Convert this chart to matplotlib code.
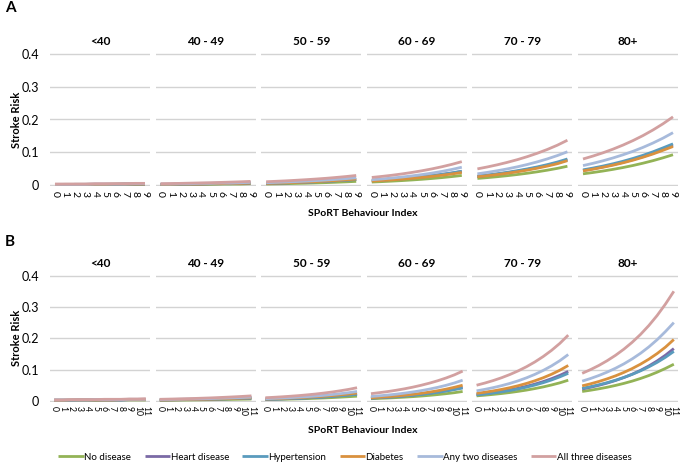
import matplotlib
matplotlib.use("Agg")
import matplotlib.pyplot as plt

plt.rcParams["font.family"] = ["Lato", "DejaVu Sans"]

ages = ["<40", "40 - 49", "50 - 59", "60 - 69", "70 - 79", "80+"]
diseases = ["No disease", "Heart disease", "Hypertension", "Diabetes",
            "Any two diseases", "All three diseases"]
colors = ["#93b356", "#7b6aa6", "#5a9bbd", "#d9913e", "#a7badb", "#d2a0a0"]
y_ticks = [0, 0.1, 0.2, 0.3, 0.4]
y_labels = ["0", "0.1", "0.2", "0.3", "0.4"]

## panel A, index 0..9 (rows follow `diseases`)
a_lt40 = [
    [.002, .002, .002, .002, .002, .003, .003, .003, .003, .003],
    [.002, .002, .003, .003, .003, .003, .003, .004, .004, .004],
    [.002, .002, .003, .003, .003, .003, .003, .004, .004, .004],
    [.002, .003, .003, .003, .003, .003, .004, .004, .004, .004],
    [.003, .003, .003, .003, .004, .004, .004, .004, .005, .005],
    [.004, .004, .004, .004, .005, .005, .005, .005, .006, .006],
]
a_40s = [
    [.002, .002, .003, .003, .003, .003, .004, .004, .004, .005],
    [.003, .003, .004, .004, .004, .005, .005, .006, .006, .007],
    [.003, .003, .003, .004, .004, .005, .005, .005, .006, .007],
    [.003, .003, .004, .004, .004, .005, .005, .006, .006, .007],
    [.004, .004, .005, .005, .006, .006, .007, .007, .008, .009],
    [.005, .0055, .006, .0067, .0074, .0081, .0089, .0098, .0108, .012],
]
a_50s = [
    [.004, .0045, .0051, .0058, .0065, .0074, .0083, .0094, .0106, .012],
    [.006, .0068, .0077, .0087, .0098, .011, .0125, .0141, .0159, .018],
    [.006, .0068, .0076, .0086, .0097, .011, .0124, .014, .0158, .0178],
    [.006, .0069, .0078, .0089, .010, .0114, .013, .0147, .0167, .019],
    [.008, .009, .0101, .0114, .0128, .0143, .0161, .0181, .0204, .023],
    [.011, .0123, .0137, .0154, .0172, .0192, .0214, .024, .0268, .030],
]
a_60s = [
    [.010, .0113, .0128, .0144, .0163, .0184, .0208, .0235, .0266, .030],
    [.014, .0158, .0179, .0202, .0228, .0258, .0291, .0329, .0372, .042],
    [.014, .0159, .018, .0203, .023, .026, .0294, .0333, .0377, .043],
    [.013, .0147, .0166, .0188, .0212, .024, .0271, .0306, .0346, .039],
    [.017, .0194, .0221, .0251, .0286, .0326, .0371, .0423, .0482, .055],
    [.024, .0271, .0306, .0346, .0391, .0442, .0499, .0564, .0637, .072],
]
a_70s = [
    [.021, .0235, .0263, .0294, .0329, .0368, .0412, .0461, .0516, .058],
    [.027, .0303, .034, .0382, .0429, .0482, .0541, .0608, .0683, .077],
    [.028, .0314, .0353, .0396, .0445, .050, .0561, .063, .0708, .080],
    [.026, .0292, .0328, .0368, .0413, .0464, .0521, .0585, .0657, .075],
    [.035, .0394, .0444, .050, .0563, .0634, .0714, .0804, .0905, .102],
    [.050, .0559, .0625, .0699, .0781, .0873, .0976, .1091, .122, .137],
]
a_80p = [
    [.035, .039, .0435, .0485, .0541, .0603, .0673, .075, .0836, .093],
    [.045, .0503, .0561, .0627, .070, .0782, .0874, .0976, .109, .122],
    [.047, .0525, .0586, .0655, .0731, .0817, .0912, .1019, .1138, .126],
    [.044, .0491, .0549, .0613, .0684, .0764, .0854, .0953, .1065, .118],
    [.060, .0669, .0746, .0832, .0928, .1034, .1153, .1286, .1434, .160],
    [.080, .089, .0989, .110, .1223, .136, .1512, .1682, .187, .208],
]

## panel B, index 0..11
b_lt40 = [
    [.002, .002, .002, .002, .002, .002, .003, .003, .003, .003, .003, .003],
    [.002, .002, .002, .003, .003, .003, .003, .003, .003, .004, .004, .004],
    [.002, .002, .002, .003, .003, .003, .003, .003, .003, .004, .004, .004],
    [.002, .002, .003, .003, .003, .003, .003, .003, .004, .004, .004, .004],
    [.003, .003, .003, .003, .003, .004, .004, .004, .004, .005, .005, .005],
    [.003, .003, .004, .004, .004, .004, .005, .005, .005, .006, .006, .007],
]
b_40s = [
    [.002, .002, .0025, .0027, .003, .0033, .0037, .004, .0045, .005, .0055, .006],
    [.003, .0033, .0037, .004, .0045, .005, .0055, .006, .0067, .0074, .0081, .009],
    [.003, .0033, .0037, .004, .0045, .005, .0055, .006, .0067, .0074, .0081, .009],
    [.003, .0033, .0037, .0042, .0047, .0052, .0058, .0065, .0072, .0081, .009, .010],
    [.004, .0044, .0049, .0054, .006, .0066, .0073, .0081, .0089, .0099, .0109, .012],
    [.005, .0056, .0062, .0069, .0076, .0085, .0094, .0105, .0117, .013, .0144, .016],
]
b_50s = [
    [.004, .0045, .0051, .0058, .0065, .0073, .0083, .0093, .0105, .0119, .0134, .015],
    [.005, .0057, .0065, .0075, .0086, .0098, .0112, .0128, .0147, .0168, .0192, .022],
    [.005, .0057, .0065, .0074, .0084, .0096, .0109, .0124, .0141, .0161, .0184, .021],
    [.006, .0068, .0078, .0089, .0101, .0115, .0131, .0149, .017, .0193, .022, .025],
    [.007, .008, .0091, .0104, .0119, .0135, .0154, .0176, .0201, .0229, .0261, .030],
    [.010, .0114, .013, .0148, .0168, .0192, .0218, .0249, .0283, .0323, .0367, .042],
]
b_60s = [
    [.007, .008, .0091, .0104, .0119, .0135, .0154, .0176, .0201, .0229, .0261, .030],
    [.009, .0104, .012, .0138, .0159, .0183, .0211, .0244, .0281, .0324, .0373, .043],
    [.009, .0103, .0119, .0137, .0157, .018, .0207, .0238, .0273, .0314, .0361, .041],
    [.010, .0116, .0134, .0155, .018, .0208, .0241, .0279, .0323, .0374, .0433, .050],
    [.014, .0161, .0185, .0213, .0246, .0283, .0325, .0375, .0431, .0496, .0571, .066],
    [.023, .0262, .0297, .0338, .0384, .0437, .0497, .0565, .0642, .073, .083, .095],
]
b_70s = [
    [.016, .0182, .0207, .0235, .0267, .0304, .0345, .0393, .0446, .0508, .0577, .066],
    [.020, .023, .0265, .0305, .0351, .0404, .0465, .0535, .0616, .0709, .0816, .094],
    [.019, .0219, .0251, .0289, .0332, .0382, .0439, .0505, .0581, .0668, .0768, .088],
    [.024, .0276, .0318, .0366, .0421, .0485, .0558, .0642, .0739, .0851, .098, .113],
    [.032, .0368, .0423, .0486, .0558, .0641, .0737, .0847, .0973, .1118, .1285, .148],
    [.050, .057, .0649, .0739, .0842, .0959, .1092, .1244, .1417, .1614, .1838, .210],
]
b_80p = [
    [.030, .034, .0385, .0435, .0493, .0558, .0631, .0715, .0809, .0916, .1037, .117],
    [.038, .0435, .0497, .0569, .0651, .0745, .0852, .0975, .1115, .1276, .146, .167],
    [.040, .0453, .0513, .0582, .0659, .0747, .0846, .0958, .1086, .123, .1394, .158],
    [.048, .0545, .0619, .0704, .0799, .0908, .1032, .1172, .1331, .1512, .1718, .196],
    [.063, .0714, .081, .0919, .1042, .1181, .134, .1519, .1723, .1954, .2216, .250],
    [.088, .0998, .1131, .1283, .1455, .165, .1871, .2121, .2406, .2728, .3094, .350],
]

panels_a = [a_lt40, a_40s, a_50s, a_60s, a_70s, a_80p]
panels_b = [b_lt40, b_40s, b_50s, b_60s, b_70s, b_80p]

W, H = 680, 469
fig = plt.figure(figsize=(W / 100, H / 100), dpi=100)

# (panels, letter, y of 0.4 line, y of 0 line, letter y, x-label y, tick size) in pixels
rows = [
    (panels_a, "A", 53, 186, 8, 213, 7.5),
    (panels_b, "B", 275, 401.5, 242, 430, 6.2),
]

handles = []
for panels, letter, y_top, y_bot, letter_y, xlab_y, tick_fs in rows:
    for i, (age, panel) in enumerate(zip(ages, panels)):
        x0 = 50 + 105.6 * i
        ax = fig.add_axes([x0 / W, 1 - y_bot / H, 100 / W, (y_bot - y_top) / H])
        n = len(panel[0])
        xs = list(range(n))
        for series, c, name in zip(panel, colors, diseases):
            ln, = ax.plot(xs, series, color=c, lw=2, label=name,
                          solid_capstyle="butt")
            if i == 0 and letter == "A":
                handles.append(ln)
        ax.set_xlim(-0.5, n - 0.5)
        ax.set_ylim(-0.002, 0.402)
        ax.set_yticks(y_ticks)
        ax.grid(axis="y", color="#d3d3d3", lw=1)
        ax.set_axisbelow(True)
        for s in ax.spines.values():
            s.set_visible(False)
        ax.tick_params(length=0)
        ax.set_xticks(xs)
        ax.set_xticklabels([str(v) for v in xs], rotation=-90, fontsize=tick_fs)
        if i == 0:
            ax.set_yticklabels(y_labels, fontsize=9)
            ax.tick_params(axis="y", pad=8)
        else:
            ax.set_yticklabels([])
        ax.set_title(age, fontsize=8.5, fontweight="bold", pad=6)

    fig.text(5 / W, 1 - letter_y / H, letter, fontsize=11, fontweight="bold",
             va="center", ha="left")
    fig.text(17 / W, 1 - (y_top + y_bot) / 2 / H, "Stroke Risk", rotation=90,
             fontsize=8, fontweight="bold", va="center", ha="center")
    fig.text(363 / W, 1 - xlab_y / H, "SPoRT Behaviour Index", fontsize=7.5,
             fontweight="bold", va="center", ha="center")

fig.legend(handles=handles, loc="center", bbox_to_anchor=(345 / W, 1 - 457 / H),
           ncol=6, frameon=False, fontsize=7, handlelength=2.6,
           handletextpad=0.05, columnspacing=1.4)

fig.savefig("out.png", dpi=100)
